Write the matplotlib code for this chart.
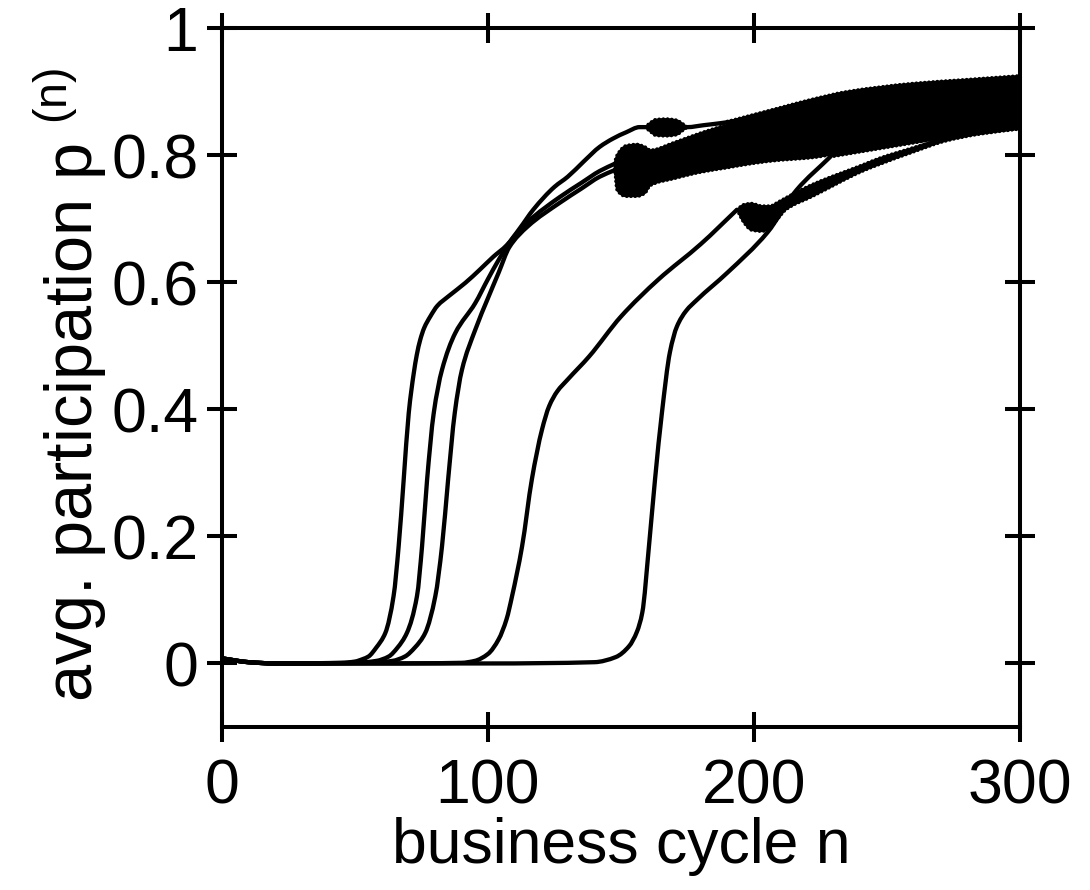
import numpy as np
import matplotlib
matplotlib.use('Agg')
import matplotlib.pyplot as plt
from matplotlib.path import Path
from matplotlib.patches import PathPatch

plt.rcParams['font.family'] = ['Liberation Sans', 'DejaVu Sans']
plt.rcParams['mathtext.fontset'] = 'custom'
plt.rcParams['mathtext.rm'] = 'Liberation Sans'

# smooth part of each run: business cycle n, avg. participation p
a_n = [0, 10, 20, 45, 50, 53, 55.1, 58, 61.4, 64.5, 66.4, 68.3, 70.2, 71.2, 72.1, 73.2, 74.5,
       76, 78.3, 81, 85.2, 91.5, 97, 102, 107, 112, 117, 125, 130, 136, 142, 147, 152, 157,
       161, 173, 175, 181, 187, 192]
a_p = [0.008, 0.002, 0.0, 0.001, 0.003, 0.007, 0.011, 0.025, 0.048, 0.106, 0.184, 0.289, 0.394,
       0.43, 0.457, 0.485, 0.509, 0.528, 0.546, 0.563, 0.578, 0.599, 0.62, 0.64, 0.658, 0.685,
       0.714, 0.75, 0.766, 0.79, 0.813, 0.826, 0.836, 0.844, 0.844, 0.844, 0.844, 0.847, 0.85,
       0.853]

b_n = [0, 10, 20, 50, 58, 62.7, 66, 69.5, 73.3, 75.2, 77.1, 79.6, 82.7, 87.7, 95.2, 100, 104,
       108, 115, 127, 135, 142, 148]
b_p = [0.008, 0.002, 0.0, 0.001, 0.004, 0.011, 0.025, 0.048, 0.106, 0.184, 0.289, 0.394, 0.462,
       0.52, 0.567, 0.605, 0.635, 0.662, 0.695, 0.734, 0.756, 0.775, 0.787]

c_n = [0, 10, 20, 55, 64, 68.8, 72.5, 76.4, 80.2, 82.7, 85, 87.5, 90.2, 95.2, 100, 104, 108,
       115, 127, 135, 142, 148]
c_p = [0.008, 0.002, 0.0, 0.001, 0.004, 0.011, 0.025, 0.048, 0.106, 0.184, 0.289, 0.394, 0.462,
       0.525, 0.575, 0.615, 0.655, 0.688, 0.725, 0.747, 0.766, 0.777]

d_n = [0, 10, 20, 60, 90, 95, 100, 104, 107, 109, 112.8, 116.5, 120.3, 123, 126, 130, 138,
       150, 164, 180, 193.6]
d_p = [0.008, 0.002, 0.0, 0.0, 0.001, 0.004, 0.015, 0.038, 0.07, 0.105, 0.184, 0.29, 0.368,
       0.405, 0.428, 0.447, 0.483, 0.546, 0.604, 0.66, 0.714]

e_n = [0, 10, 20, 100, 140, 148, 153, 156, 158, 160.5, 162.8, 165.4, 168.4, 171, 174.5, 178.5,
       190, 205, 216, 228.6]
e_p = [0.008, 0.002, 0.0, 0.0, 0.002, 0.01, 0.027, 0.05, 0.08, 0.184, 0.29, 0.395, 0.49, 0.53,
       0.555, 0.572, 0.615, 0.678, 0.745, 0.797]

# period-2 oscillation ranges (lower / upper values) once a run starts to flip
a_blob_n = [159, 161, 163, 167, 171, 173, 175]
a_blob_lo = [0.844, 0.837, 0.831, 0.83, 0.832, 0.838, 0.844]
a_blob_hi = [0.844, 0.851, 0.856, 0.857, 0.855, 0.85, 0.844]

a_osc_n = [190, 200, 210, 220, 235, 260, 280, 300]
a_osc_lo = [0.853, 0.84, 0.835, 0.832, 0.835, 0.845, 0.85, 0.855]
a_osc_hi = [0.853, 0.864, 0.875, 0.886, 0.9, 0.913, 0.919, 0.925]

b_osc_n = [147.5, 148.5, 152, 156, 159, 161, 170, 180, 190, 200, 210, 220, 235, 260, 280, 300]
b_osc_lo = [0.785, 0.745, 0.735, 0.735, 0.74, 0.752, 0.763, 0.773, 0.78, 0.787, 0.792, 0.795,
            0.805, 0.83, 0.845, 0.86]
b_osc_hi = [0.787, 0.80, 0.815, 0.817, 0.813, 0.808, 0.82, 0.835, 0.848, 0.858, 0.866, 0.873,
            0.883, 0.893, 0.898, 0.903]

c_osc_n = [148, 161, 180, 200, 220, 260, 300]
c_osc_lo = [0.77, 0.76, 0.775, 0.79, 0.80, 0.825, 0.85]
c_osc_hi = [0.78, 0.79, 0.81, 0.83, 0.845, 0.87, 0.89]

d_osc_n = [193.6, 196, 199, 203, 206, 209, 212, 222, 241, 247, 260, 272, 285, 300]
d_osc_lo = [0.714, 0.695, 0.682, 0.68, 0.685, 0.7, 0.714, 0.735, 0.775, 0.785, 0.805, 0.822,
            0.833, 0.841]
d_osc_hi = [0.714, 0.722, 0.724, 0.72, 0.72, 0.726, 0.733, 0.754, 0.785, 0.795, 0.812, 0.827,
            0.836, 0.844]

e_osc_n = [228.6, 240, 250, 260, 272, 285, 300]
e_osc_lo = [0.797, 0.805, 0.812, 0.819, 0.827, 0.834, 0.842]
e_osc_hi = [0.81, 0.83, 0.84, 0.85, 0.86, 0.87, 0.875]

x_ticks = [0, 100, 200, 300]
y_ticks = [0, 0.2, 0.4, 0.6, 0.8, 1]
y_tick_labels = ['0', '0.2', '0.4', '0.6', '0.8', '1']


def bezier_verts(x, y):
    # cubic bezier through the read points, monotone (pchip style) tangents
    x = np.asarray(x, float)
    y = np.asarray(y, float)
    h = np.diff(x)
    d = np.diff(y) / h
    m = np.zeros_like(x)
    m[0], m[-1] = d[0], d[-1]
    for k in range(1, len(x) - 1):
        if d[k - 1] * d[k] > 0:
            w1 = 2 * h[k] + h[k - 1]
            w2 = h[k] + 2 * h[k - 1]
            m[k] = (w1 + w2) / (w1 / d[k - 1] + w2 / d[k])
    verts = [(x[0], y[0])]
    for k in range(len(x) - 1):
        verts.append((x[k] + h[k] / 3, y[k] + m[k] * h[k] / 3))
        verts.append((x[k + 1] - h[k] / 3, y[k + 1] - m[k + 1] * h[k] / 3))
        verts.append((x[k + 1], y[k + 1]))
    return verts


def curve_path(x, y):
    v = bezier_verts(x, y)
    return Path(v, [Path.MOVETO] + [Path.CURVE4] * (len(v) - 1))


def draw_run(ax, n, p):
    ax.add_patch(PathPatch(curve_path(n, p), fill=False, ec='k', lw=3.1,
                           joinstyle='round', capstyle='round'))


def draw_band(ax, n, lo, hi):
    up = bezier_verts(n, hi)
    dn = bezier_verts(n, lo)[::-1]
    verts = up + dn + [up[0]]
    codes = ([Path.MOVETO] + [Path.CURVE4] * (len(up) - 1) + [Path.LINETO]
             + [Path.CURVE4] * (len(dn) - 1) + [Path.CLOSEPOLY])
    ax.add_patch(PathPatch(Path(verts, codes), fc='k', ec='none'))
    for edge in (lo, hi):
        pth = curve_path(n, edge)
        ax.add_patch(PathPatch(pth, fill=False, ec='k', lw=1.2))
        ax.add_patch(PathPatch(pth, fill=False, ec='k', lw=2.4,
                               ls=(0, (0.01, 1.25)), capstyle='round'))


fig = plt.figure(figsize=(10.9, 8.9), dpi=100)
ax = fig.add_axes([222 / 1090, 1 - 727 / 890, 798 / 1090, 699 / 890])

for n, p in [(a_n, a_p), (b_n, b_p), (c_n, c_p), (d_n, d_p), (e_n, e_p)]:
    draw_run(ax, n, p)

draw_band(ax, a_blob_n, a_blob_lo, a_blob_hi)
draw_band(ax, b_osc_n, b_osc_lo, b_osc_hi)
draw_band(ax, c_osc_n, c_osc_lo, c_osc_hi)
draw_band(ax, a_osc_n, a_osc_lo, a_osc_hi)
draw_band(ax, d_osc_n, d_osc_lo, d_osc_hi)
draw_band(ax, e_osc_n, e_osc_lo, e_osc_hi)

ax.set_xlim(0, 300)
ax.set_ylim(-0.1, 1)
ax.set_xticks(x_ticks)
ax.set_yticks(y_ticks)
ax.set_yticklabels(y_tick_labels)
for s in ax.spines.values():
    s.set_linewidth(2.9)
ax.tick_params(direction='inout', length=22, width=2.9, labelsize=45,
               top=True, right=True)
ax.tick_params(axis='x', pad=11)
ax.tick_params(axis='y', pad=6)

ax.set_xlabel('business cycle n', fontsize=45, labelpad=0)
ax.set_ylabel(r'avg. participation p $^{\mathrm{(n)}}$', fontsize=48)
ax.yaxis.set_label_coords(-0.14, 0.49)

fig.savefig('out.png', dpi=100)
